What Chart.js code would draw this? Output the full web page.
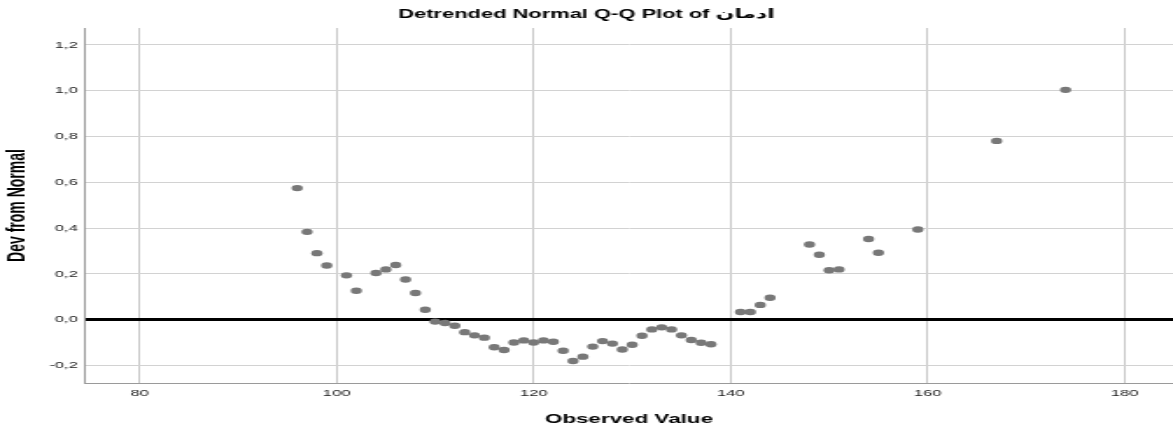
<!DOCTYPE html>
<html>
<head>
<meta charset="utf-8">
<title>Detrended Normal Q-Q Plot</title>
<script src="https://cdn.jsdelivr.net/npm/chart.js@4.4.1/dist/chart.umd.min.js"></script>
<style>
  html, body { margin: 0; padding: 0; background: #fff; overflow: hidden; }
  /* the original SPSS picture is stretched sideways, so the chart is drawn narrow and widened */
  #wrap { width: 670px; height: 434px; transform: scaleX(1.7507); transform-origin: 0 0; }
</style>
</head>
<body>
<div id="wrap"><canvas id="qqChart" width="670" height="434"></canvas></div>
<script>
const observedValues = [96, 97, 98, 99, 101, 102, 104, 105, 106, 107, 108, 109,
  110, 111, 112, 113, 114, 115, 116, 117, 118, 119, 120, 121, 122, 123, 124, 125,
  126, 127, 128, 129, 130, 131, 132, 133, 134, 135, 136, 137, 138,
  141, 142, 143, 144, 148, 149, 150, 151, 154, 155, 159, 167, 174];
const devFromNormal = [0.575, 0.384, 0.291, 0.237, 0.194, 0.127, 0.204, 0.220, 0.239, 0.176, 0.117, 0.044,
  -0.008, -0.014, -0.026, -0.054, -0.068, -0.078, -0.120, -0.132, -0.099, -0.090, -0.099, -0.090, -0.096, -0.135, -0.180, -0.161,
  -0.117, -0.093, -0.104, -0.130, -0.109, -0.070, -0.042, -0.033, -0.042, -0.068, -0.088, -0.100, -0.107,
  0.034, 0.034, 0.065, 0.096, 0.329, 0.284, 0.216, 0.220, 0.353, 0.293, 0.394, 0.781, 1.004];
const xTicks = [80, 100, 120, 140, 160, 180];
const yTicks = [-0.2, 0, 0.2, 0.4, 0.6, 0.8, 1.0, 1.2];

const FONT = "'Liberation Sans', Arial, 'DejaVu Sans', sans-serif";

const points = observedValues.map((v, i) => ({ x: v, y: devFromNormal[i] }));

new Chart(document.getElementById("qqChart"), {
  type: "scatter",
  data: {
    datasets: [{
      label: "Dev from Normal",
      data: points,
      backgroundColor: "#787878",
      borderWidth: 0,
      pointRadius: 3.2,
      pointHoverRadius: 3.2
    }]
  },
  options: {
    responsive: false,
    animation: false,
    devicePixelRatio: 1,
    layout: { padding: 0, autoPadding: false },
    plugins: {
      legend: { display: false },
      tooltip: { enabled: false },
      title: {
        display: true,
        text: "Detrended Normal Q-Q Plot of ادمان",
        color: "#000",
        font: { family: FONT, size: 12.5, weight: "bold" },
        padding: { top: 7, bottom: 6 }
      }
    },
    scales: {
      x: {
        type: "linear",
        min: 74.45,
        max: 184.9,
        afterBuildTicks: s => { s.ticks = xTicks.map(v => ({ value: v })); },
        afterFit: s => { s.height = 51; },
        grid: { color: "#c8c8c8", lineWidth: 1, drawTicks: false },
        border: { color: "#9a9a9a", width: 1 },
        ticks: {
          color: "#222",
          padding: 5,
          font: { family: FONT, size: 9.5 }
        },
        title: {
          display: true,
          text: "Observed Value",
          color: "#000",
          font: { family: FONT, size: 12.8, weight: "bold" },
          padding: { top: 0, bottom: 7 }
        }
      },
      y: {
        min: -0.276,
        max: 1.274,
        afterBuildTicks: s => { s.ticks = yTicks.map(v => ({ value: v })); },
        afterFit: s => { s.width = 48.5; },
        grid: {
          drawTicks: false,
          color: c => (c.tick && Math.abs(c.tick.value) < 1e-9) ? "#000" : "#d2d2d2",
          lineWidth: c => (c.tick && Math.abs(c.tick.value) < 1e-9) ? 3 : 1
        },
        border: { color: "#9a9a9a", width: 1 },
        ticks: {
          color: "#222",
          padding: 4,
          font: { family: FONT, size: 9.5 },
          callback: v => v.toFixed(1).replace(".", ",")
        },
        title: {
          display: true,
          text: "Dev from Normal",
          color: "#000",
          font: { family: FONT, size: 14, weight: "bold" },
          padding: { top: 2, bottom: 0 }
        }
      }
    }
  }
});
</script>
</body>
</html>
